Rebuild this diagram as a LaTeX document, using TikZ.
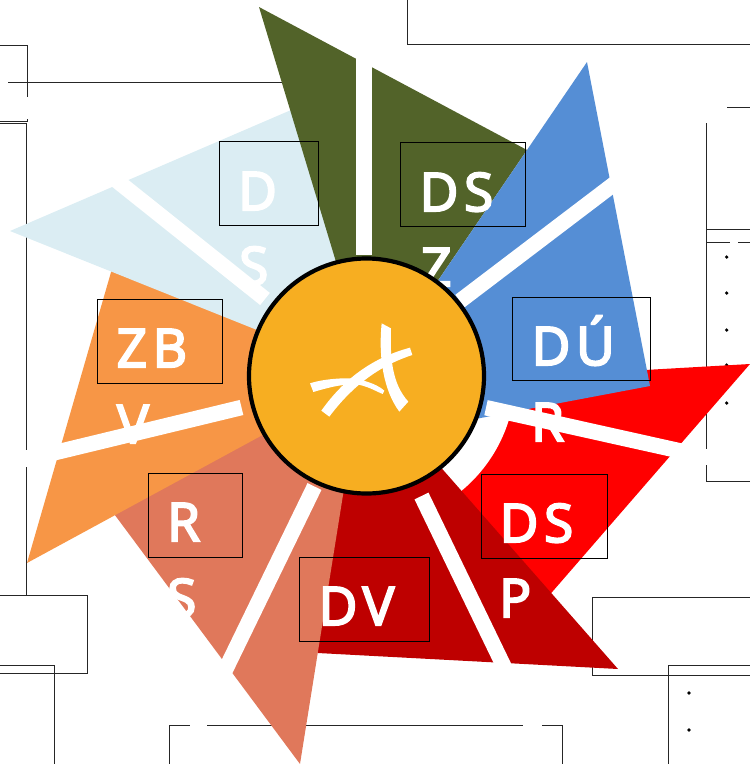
\documentclass[tikz,border=0pt]{standalone}
\usepackage{fontspec}
\usepackage{tikz}
\usetikzlibrary{calc}
\newfontfamily\petalfont[LetterSpace=11,FakeBold=4]{Open Sans}
\definecolor{PetalPale}{RGB}{ 219, 237, 243}
\definecolor{PetalGreen}{RGB}{ 82, 99, 41}
\definecolor{PetalBlue}{RGB}{ 85, 142, 213}
\definecolor{PetalRed}{RGB}{ 255, 0, 0}
\definecolor{PetalDark}{RGB}{ 190, 0, 0}
\definecolor{PetalClay}{RGB}{ 224, 120, 91}
\definecolor{PetalOrange}{RGB}{ 247, 150, 70}
\definecolor{HubYellow}{RGB}{ 247, 174, 33}

\begin{document}
\begin{tikzpicture}[x=1pt, y=-1pt]
      \tikzstyle{frame}=[line width=.8pt, black!85];
      \tikzstyle{petal}=[draw=none];
      \tikzstyle{spoke}=[white, line width=15.5pt];
      \tikzstyle{tag}=[draw=black, line width=.8pt, inner sep=0pt, outer sep=0pt];
      \tikzstyle{letters}=[white, inner sep=0pt, anchor=base west, font=\petalfont\fontsize{53}{60}\selectfont];
      \tikzstyle{hubdisc}=[draw=black, line width=4.2pt, fill=HubYellow, circle, inner sep=0pt, minimum size=235pt];
      \tikzstyle{dot}=[fill=black, circle, inner sep=0pt, minimum size=3.6pt];

      \pgfdeclarelayer{foreground}
      \pgfdeclarelayer{background}
      \pgfsetlayers{background,main,%
        foreground%
      }
      \useasboundingbox (0,0) rectangle (750,764);
      \begin{pgfonlayer}{foreground}
        \node[hubdisc] (hub) at (366.5,376) {};
        \begin{scope}[shift={(290,300)}, x=.3333pt, y=-.3333pt, white]
          \fill (275,70) -- (303,85) .. controls (300,170) and (305,250) .. (355,305) -- (328,335) .. controls (280,270) and (265,170) .. (275,70) -- cycle;
          \fill (360,143) -- (367,165) .. controls (290,190) and (200,240) .. (118,350) -- (94,332) .. controls (170,225) and (260,170) .. (360,143) -- cycle;
          \fill (60,250) -- (70,276) .. controls (130,258) and (170,250) .. (210,255) .. controls (240,262) and (260,275) .. (278,282) -- (283,272) .. controls (260,250) and (200,232) .. (160,235) .. controls (130,236) and (90,240) .. (60,250) -- cycle;
        \end{scope}
      \end{pgfonlayer}

      \begin{pgfonlayer}{background}
        % top left
        \draw[frame] (0,45.5) -- (27,45.5) -- (27,97);
        \draw[frame] (8,82) -- (300,82);
        \draw[frame] (0,121) -- (27,121) -- (27,119);
        \draw[frame] (0,123) -- (27,123);
        \draw[frame] (26.5,123) -- (26.5,450);
        \draw[frame] (26.5,467) -- (26.5,596);
        % bottom left
        \draw[frame] (0,595.5) -- (87,595.5) -- (87,673) -- (0,673);
        \draw[frame] (0,665.5) -- (54.5,665.5) -- (54.5,764);
        % bottom
        \draw[frame] (169.5,764) -- (169.5,725.5) -- (190,725.5);
        \draw[frame] (207,725.5) -- (523,725.5);
        \draw[frame] (542,725.5) -- (562,725.5) -- (562,764);
        % top right
        \draw[frame] (407,0) -- (407,44) -- (750,44);
        \draw[frame] (727,107) -- (750,107);
        \draw[frame] (706,123) -- (706,449);
        \draw[frame] (706,465) -- (706,481) -- (750,481);
        \draw[frame] (706,229) -- (750,229);
        \draw[frame] (706,242) -- (730,242);
        \draw[frame] (738,242) -- (750,242);
        % bottom right
        \draw[frame] (750,597.5) -- (592.5,597.5) -- (592.5,675.5) -- (750,675.5);
        \draw[frame] (668,764) -- (668,665) -- (750,665);
        \foreach \py [count=\i] in {257,293,330,365,403} {
          \node[dot] (rdot\i) at (726.7,\py) {};
        }
        \node[dot] (ldot1) at (689,693) {};
        \node[dot] (ldot2) at (689,730) {};
      \end{pgfonlayer}

      \fill[PetalRed, petal] (750,364) -- (540,606) -- (hub.center) -- (470,380) -- cycle;
      \fill[white] (hub.center) -- ($(hub.center)+(8:149)$) arc (8:65:149) -- cycle;
      \fill[PetalDark, petal] (618,669) -- (312,652.7) -- (335,510) -- (hub.center) -- (430,455) -- cycle;
      \fill[PetalClay, petal] (300,764) -- (100,495) -- (hub.center) -- (347,470) -- cycle;
      \fill[PetalOrange, petal] (27,563) -- (270,431) -- (hub.center) -- (118,248) -- cycle;
      \fill[PetalPale, petal] (10,231) -- (305,104) -- (hub.center) -- (262,332) -- cycle;
      \fill[PetalGreen, petal] (259,7) -- (527,150) -- (437,282) -- (hub.center) -- (343,285) -- cycle;
      \fill[PetalBlue, petal] (587,62) -- (650,386) -- (470,420) -- (hub.center) -- (420,307) -- cycle;

      \foreach \ax/\ay/\bx/\by in {364.2/255/364.2/40, 460/301/612/185.5, 486/407.7/676/450, 421.5/496/502.5/663.5, 314.5/486.5/227/666.5, 241.5/407.5/59.5/451.5, 265/299/121/184} {
        \draw[spoke] (\ax,\ay) -- ($(\ax,\ay)!1.08!(\bx,\by)$);
      }

      \node[tag, minimum width=99pt, minimum height=84pt] (tagds) at (268.5,183) {};
      \node[tag, minimum width=125pt, minimum height=84pt] (tagdsz) at (462.5,184) {};
      \node[tag, minimum width=138pt, minimum height=83pt] (tagdur) at (581,338.5) {};
      \node[tag, minimum width=126pt, minimum height=84pt] (tagdsp) at (544,516) {};
      \node[tag, minimum width=130pt, minimum height=84pt] (tagdv) at (364,599) {};
      \node[tag, minimum width=94pt, minimum height=84pt] (tagrs) at (195,515) {};
      \node[tag, minimum width=125pt, minimum height=84pt] (tagzbv) at (159.5,341) {};

      \node[letters] (txtdsa) at (238,210) {D};
      \node[letters] (txtdsb) at (239,285) {S};
      \node[letters] (txtdsza) at (419.5,211) {DS};
      \node[letters] (txtdszb) at (421,286) {Z};
      \node[letters] (txtdura) at (531.5,365) {DÚ};
      \node[letters] (txtdurb) at (531,441) {R};
      \node[letters] (txtdspa) at (499.5,542) {DS};
      \node[letters] (txtdspb) at (499,617) {P};
      \node[letters] (txtdv) at (318.5,625) {DV};
      \node[letters] (txtrsa) at (167,541) {R};
      \node[letters] (txtrsb) at (167,617) {S};
      \node[letters] (txtzbva) at (116.5,367) {ZB};
      \node[letters] (txtzbvb) at (117,443) {V};
    \end{tikzpicture}
\end{document}
